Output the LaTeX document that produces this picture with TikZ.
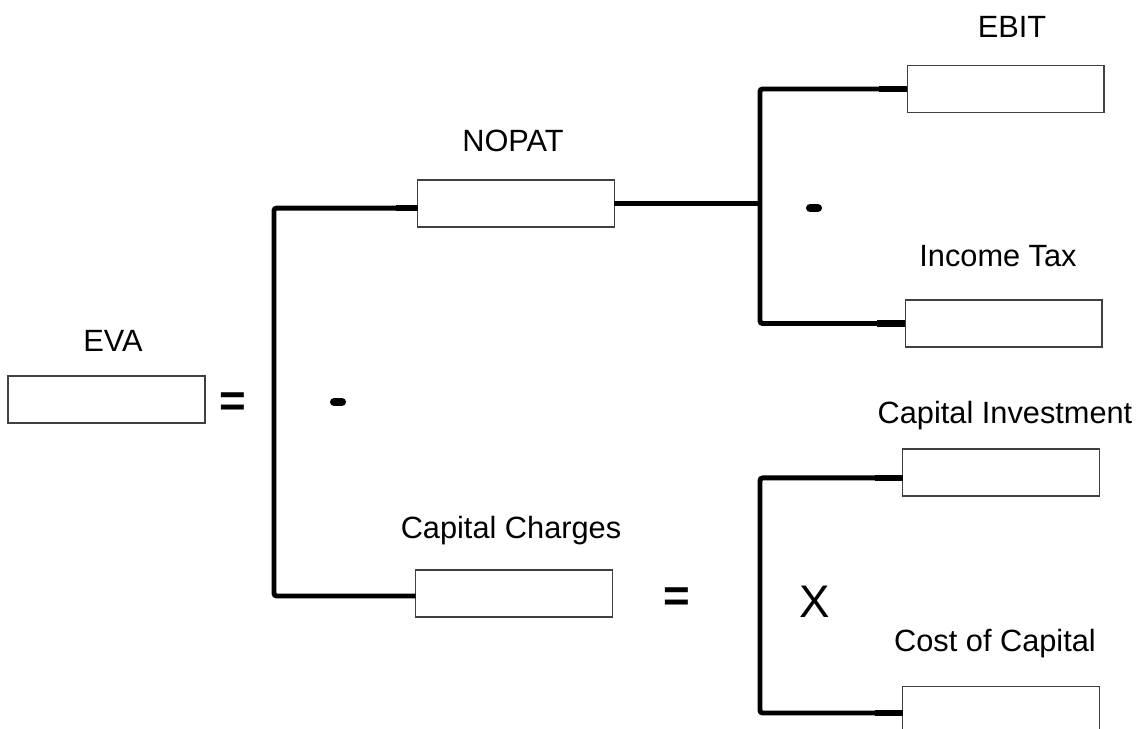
\documentclass[tikz,border=0pt]{standalone}
\usepackage{fontspec}
\setmainfont{Liberation Sans}
\begin{document}
\begin{tikzpicture}[x=0.02cm,y=-0.02cm,
 box/.style={draw=black!75,line width=0.6pt,fill=white,minimum width=3.94cm,minimum height=0.94cm,inner sep=0,outer sep=0},
 lbl/.style={font=\fontsize{17.5}{20}\selectfont,anchor=base,inner sep=0},
 op/.style={font=\fontsize{26}{30}\selectfont,inner sep=0},
 conn/.style={line width=2.8pt,rounded corners=1.5pt},
 stub/.style={line width=3.5pt},
 minus/.style={line width=4.6pt,line cap=round}]
\useasboundingbox (0,0) rectangle (1142,729);
\clip (0,0) rectangle (1142,729);
% boxes
\node[box] (eva) at (106.5,399.5) {};
\node[box] (nopat) at (516,203.5) {};
\node[box] (ebit) at (1005.5,89) {};
\node[box] (tax) at (1003.5,323.5) {};
\node[box] (capinv) at (1001,472.5) {};
\node[box] (coc) at (1001,710) {};
\node[box] (capch) at (514,593.5) {};
% labels
\node[lbl] (leva) at (113,352) {EVA};
\node[lbl] (lnopat) at (513,152) {NOPAT};
\node[lbl] (lebit) at (1012,38) {EBIT};
\node[lbl] (ltax) at (998,267) {Income Tax};
\node[lbl] (lcapinv) at (1005,423) {Capital Investment};
\node[lbl] (lcapch) at (511,538) {Capital Charges};
\node[lbl] (lcoc) at (995,651) {Cost of Capital};
% operators
\node[op,font=\fontsize{26}{30}\selectfont\bfseries] (eq1) at (233,405) {=};
\node[op,font=\fontsize{26}{30}\selectfont\bfseries] (eq2) at (677,600) {=};
\node[op,anchor=base] (times) at (815,617) {X};
\draw[minus] (334,402) -- (342,402);
\draw[minus] (810,208) -- (818,208);
% bracket coordinates
\coordinate (b1) at (274,0);
\coordinate (b2) at (760,0);
\coordinate (b3) at (760,0);
% connectors
\draw[conn] ([yshift=-2.6pt]nopat.west) -- ([yshift=-2.6pt]nopat.west -| b1) -- ([yshift=-1.4pt]capch.west -| b1) -- ([yshift=-1.4pt]capch.west);
\draw[stub] ([yshift=-2.6pt]nopat.west) -- ++(-22,0);
\draw[conn] (nopat.east) -- (nopat.east -| b2);
\draw[conn] (ebit.west) -- (ebit.west -| b2) -- (tax.west -| b2) -- (tax.west);
\draw[stub] (ebit.west) -- ++(-28,0);
\draw[stub] (tax.west) -- ++(-28,0);
\draw[conn] ([yshift=-3.1pt]capinv.west) -- ([yshift=-3.1pt]capinv.west -| b3) -- ([yshift=-1.7pt]coc.west -| b3) -- ([yshift=-1.7pt]coc.west);
\draw[stub] ([yshift=-3.1pt]capinv.west) -- ++(-28,0);
\draw[stub] ([yshift=-1.7pt]coc.west) -- ++(-28,0);
\end{tikzpicture}
\end{document}
